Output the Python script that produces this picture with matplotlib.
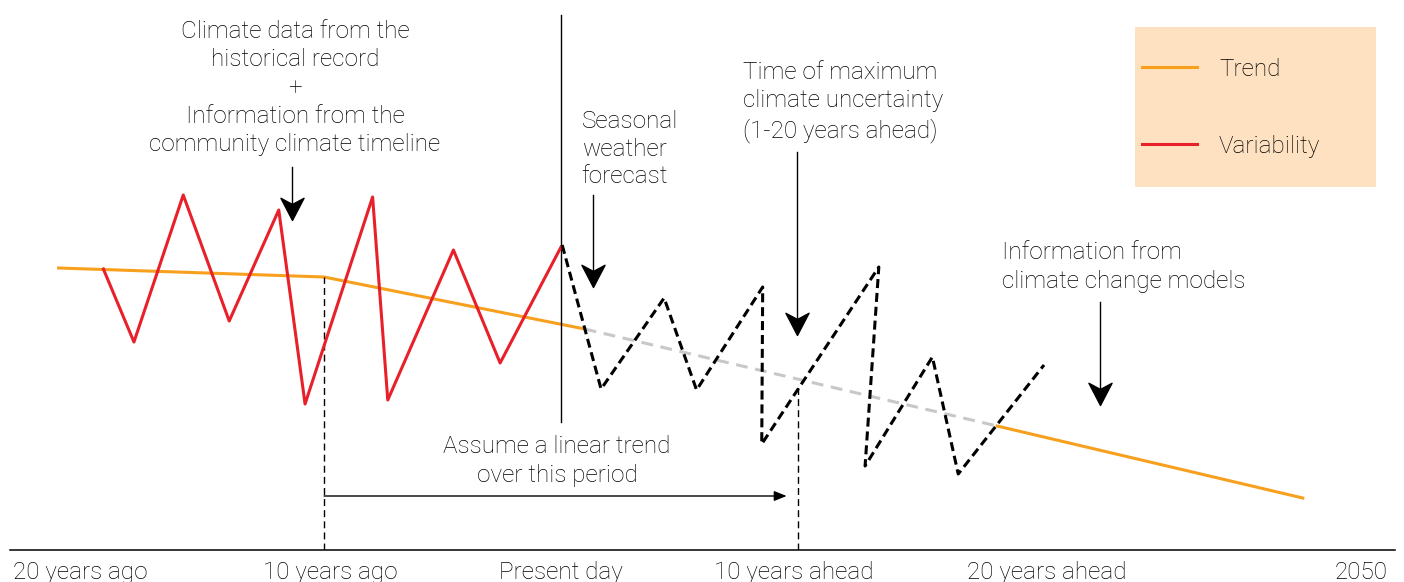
import matplotlib
matplotlib.use('Agg')
import matplotlib.pyplot as plt
from matplotlib.path import Path
from matplotlib.patches import Rectangle

plt.rcParams['font.family'] = ['Roboto', 'DejaVu Sans']
plt.rcParams['font.weight'] = 'light'
plt.rcParams['lines.scale_dashes'] = False

# x = years relative to present day, y = climate index (arbitrary units)
trend_past_x = [-21.2, -10.0, 1.0]
trend_past_y = [2.82, 2.73, 2.21]
trend_assumed_x = [1.0, 18.4]
trend_assumed_y = [2.21, 1.24]
trend_future_x = [18.4, 31.3]
trend_future_y = [1.24, 0.52]

var_obs_x = [-19.31, -18.02, -15.94, -14.0, -11.91, -10.80, -7.95, -7.31, -4.54, -2.57, 0.0]
var_obs_y = [2.81, 2.08, 3.55, 2.29, 3.40, 1.46, 3.53, 1.50, 3.00, 1.87, 3.03]

var_fc_x = [0.05, 1.69, 4.35, 5.72, 8.51, 8.47, 13.41, 12.83, 15.67, 16.76, 20.38]
var_fc_y = [3.05, 1.61, 2.52, 1.60, 2.63, 1.06, 2.83, 0.84, 1.93, 0.76, 1.85]

tick_pos = [-20.3, -9.75, 0, 9.8, 20.5, 33.75]
tick_labels = ['20 years ago', '10 years ago', 'Present day', '10 years ahead',
               '20 years ahead', '2050']

trend_col = '#F7A01E'
var_col = '#E8202A'
assumed_col = '#C8C8C8'
legend_bg = '#FDE1C0'

fig = plt.figure(figsize=(14.04, 5.82), dpi=100)
ax = fig.add_axes([10 / 1404, 32 / 582, 1385 / 1404, 550 / 582])
ax.set_xlim(-23.25, 35.19)
ax.set_ylim(0, 5.5)

# trend lines
ax.plot(trend_past_x, trend_past_y, color=trend_col, lw=2.2, zorder=2)
ax.plot(trend_assumed_x, trend_assumed_y, color=assumed_col, lw=2.2,
        dashes=(8.5, 5.5), zorder=2)
ax.plot(trend_future_x, trend_future_y, color=trend_col, lw=2.2, zorder=2)

# variability
ax.plot(var_obs_x, var_obs_y, color=var_col, lw=2.2, zorder=3)
ax.plot(var_fc_x, var_fc_y, color='black', lw=2.2, dashes=(6.5, 3.5), zorder=3)

# present day line and period markers
ax.plot([0, 0], [1.28, 5.35], color='black', lw=1.0)
ax.plot([-10.0, -10.0], [0, 2.73], color='black', lw=1.0, dashes=(5, 3))
ax.plot([10.0, 10.0], [0, 1.65], color='black', lw=1.0, dashes=(5, 3))
ax.annotate('', xy=(9.52, 0.54), xytext=(-10.0, 0.54),
            arrowprops=dict(arrowstyle='-|>,head_length=0.75,head_width=0.3',
                            mutation_scale=10, color='black', lw=1.0,
                            shrinkA=0, shrinkB=0))

# annotation arrows
head = Path([(0, 0), (-0.52, 1.0), (0, 0.72), (0.52, 1.0), (0, 0)],
            [Path.MOVETO, Path.LINETO, Path.LINETO, Path.LINETO, Path.CLOSEPOLY])
arrows = [(-11.36, 3.83, 3.30), (1.36, 3.55, 2.63), (9.94, 3.98, 2.15), (22.74, 2.48, 1.45)]
for ax_x, y0, y1 in arrows:
    ax.plot([ax_x, ax_x], [y0, y1 + 0.1], color='black', lw=1.0)
    ax.plot([ax_x], [y1], marker=head, markersize=32, color='black', lw=0)

fs = 17.5
ax.text(-11.22, 4.62, 'Climate data from the\nhistorical record\n+\nInformation from the\ncommunity climate timeline',
        ha='center', va='center', fontsize=fs, linespacing=1.3)
ax.text(0.87, 4.01, 'Seasonal\nweather\nforecast', ha='left', va='center',
        fontsize=fs, linespacing=1.25)
ax.text(7.67, 4.48, 'Time of maximum\nclimate uncertainty\n(1-20 years ahead)',
        ha='left', va='center', fontsize=fs, linespacing=1.3)
ax.text(18.6, 2.83, 'Information from\nclimate change models', ha='left',
        va='center', fontsize=fs, linespacing=1.3)
ax.text(-0.17, 0.89, 'Assume a linear trend\nover this period', ha='center',
        va='center', fontsize=fs, linespacing=1.3)

# legend box
ax.add_patch(Rectangle((24.22, 3.63), 34.39 - 24.22, 5.23 - 3.63,
                       facecolor=legend_bg, edgecolor='none', zorder=1))
ax.plot([24.51, 26.84], [4.83, 4.83], color=trend_col, lw=2.2)
ax.plot([24.51, 26.84], [4.06, 4.06], color=var_col, lw=2.2)
ax.text(27.76, 4.80, 'Trend', ha='left', va='center', fontsize=fs)
ax.text(27.76, 4.04, 'Variability', ha='left', va='center', fontsize=fs)

# axis
for s in ['top', 'left', 'right']:
    ax.spines[s].set_visible(False)
ax.spines['bottom'].set_linewidth(1.1)
ax.set_yticks([])
ax.set_xticks(tick_pos)
ax.set_xticklabels(tick_labels, fontsize=fs)
ax.tick_params(axis='x', which='major', length=0, pad=8)
ax.set_xticks([0], minor=True)
ax.tick_params(axis='x', which='minor', length=6, width=1.0, direction='out')
ax.patch.set_alpha(0)

fig.savefig('out.png', dpi=100)
